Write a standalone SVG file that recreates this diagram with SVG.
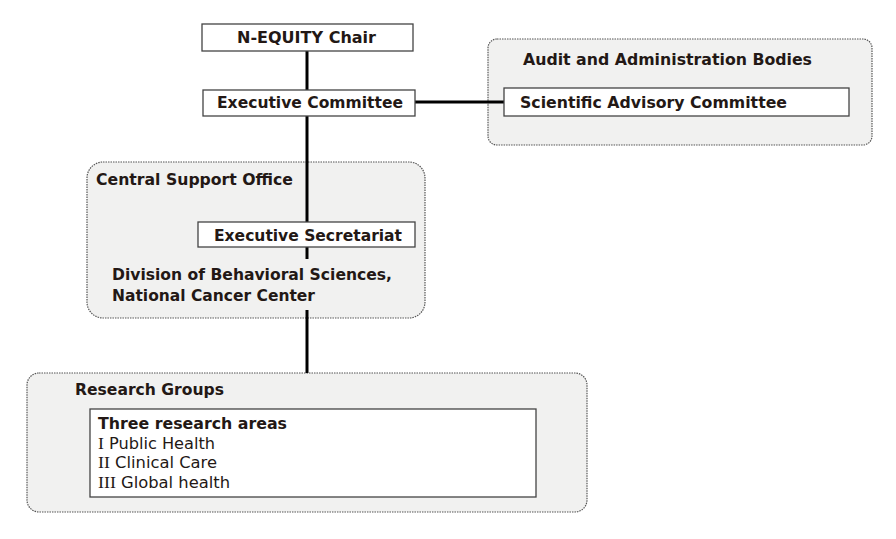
<svg xmlns="http://www.w3.org/2000/svg" width="896" height="539" viewBox="0 0 896 539">
<style>
.grp{fill:#f1f1f0;stroke:#555;stroke-width:1.2;stroke-dasharray:1.5,1}
.node{fill:#fff;stroke:#444;stroke-width:1.3}
.b{font-family:"DejaVu Sans",Verdana,sans-serif;font-weight:bold;font-size:16px;fill:#231815}
.r{font-family:"DejaVu Sans",Verdana,sans-serif;font-size:16px;fill:#231815}
.rm{font-family:"Liberation Serif","Times New Roman",serif;font-size:17.5px}
.conn{stroke:#000;stroke-width:3;fill:none}
</style>
<rect width="896" height="539" fill="#fff"/>
<g id="audit-bodies">
<rect class="grp" x="488" y="39" width="384" height="106" rx="9"/>
<text class="b" x="523" y="65" textLength="289" lengthAdjust="spacingAndGlyphs">Audit and Administration Bodies</text>
</g>
<g id="central-support-office">
<rect class="grp" x="87" y="162" width="338" height="156" rx="16"/>
<text class="b" x="96" y="185" textLength="197" lengthAdjust="spacingAndGlyphs">Central Support Office</text>
<text class="b" x="112" y="280" textLength="280" lengthAdjust="spacingAndGlyphs">Division of Behavioral Sciences,</text>
<text class="b" x="112" y="301" textLength="203" lengthAdjust="spacingAndGlyphs">National Cancer Center</text>
</g>
<g id="research-groups">
<rect class="grp" x="27" y="373" width="560" height="139" rx="12"/>
<text class="b" x="75" y="395" textLength="149" lengthAdjust="spacingAndGlyphs">Research Groups</text>
</g>
<g id="connectors">
<line class="conn" x1="307" y1="51" x2="307" y2="90"/>
<line class="conn" x1="307" y1="116" x2="307" y2="222"/>
<line class="conn" x1="307" y1="247" x2="307" y2="259"/>
<line class="conn" x1="307" y1="310" x2="307" y2="373"/>
<line class="conn" x1="415" y1="102" x2="504" y2="102"/>
</g>
<g id="n-equity-chair">
<rect class="node" x="202" y="24" width="211" height="27"/>
<text class="b" x="237" y="43" textLength="139" lengthAdjust="spacingAndGlyphs">N-EQUITY Chair</text>
</g>
<g id="executive-committee">
<rect class="node" x="203" y="90" width="212" height="26"/>
<text class="b" x="217" y="108" textLength="186" lengthAdjust="spacingAndGlyphs">Executive Committee</text>
</g>
<g id="scientific-advisory-committee">
<rect class="node" x="504" y="88" width="345" height="28"/>
<text class="b" x="520" y="108" textLength="267" lengthAdjust="spacingAndGlyphs">Scientific Advisory Committee</text>
</g>
<g id="executive-secretariat">
<rect class="node" x="198" y="222" width="217" height="25"/>
<text class="b" x="214" y="241" textLength="188" lengthAdjust="spacingAndGlyphs">Executive Secretariat</text>
</g>
<g id="three-research-areas">
<rect class="node" x="90" y="409" width="446" height="88"/>
<text class="b" x="98" y="429" textLength="189" lengthAdjust="spacingAndGlyphs">Three research areas</text>
<text class="r" x="98" y="449" textLength="117" lengthAdjust="spacingAndGlyphs"><tspan class="rm">I</tspan> Public Health</text>
<text class="r" x="98" y="468" textLength="119" lengthAdjust="spacingAndGlyphs"><tspan class="rm">II</tspan> Clinical Care</text>
<text class="r" x="98" y="488" textLength="132" lengthAdjust="spacingAndGlyphs"><tspan class="rm">III</tspan> Global health</text>
</g>
</svg>
